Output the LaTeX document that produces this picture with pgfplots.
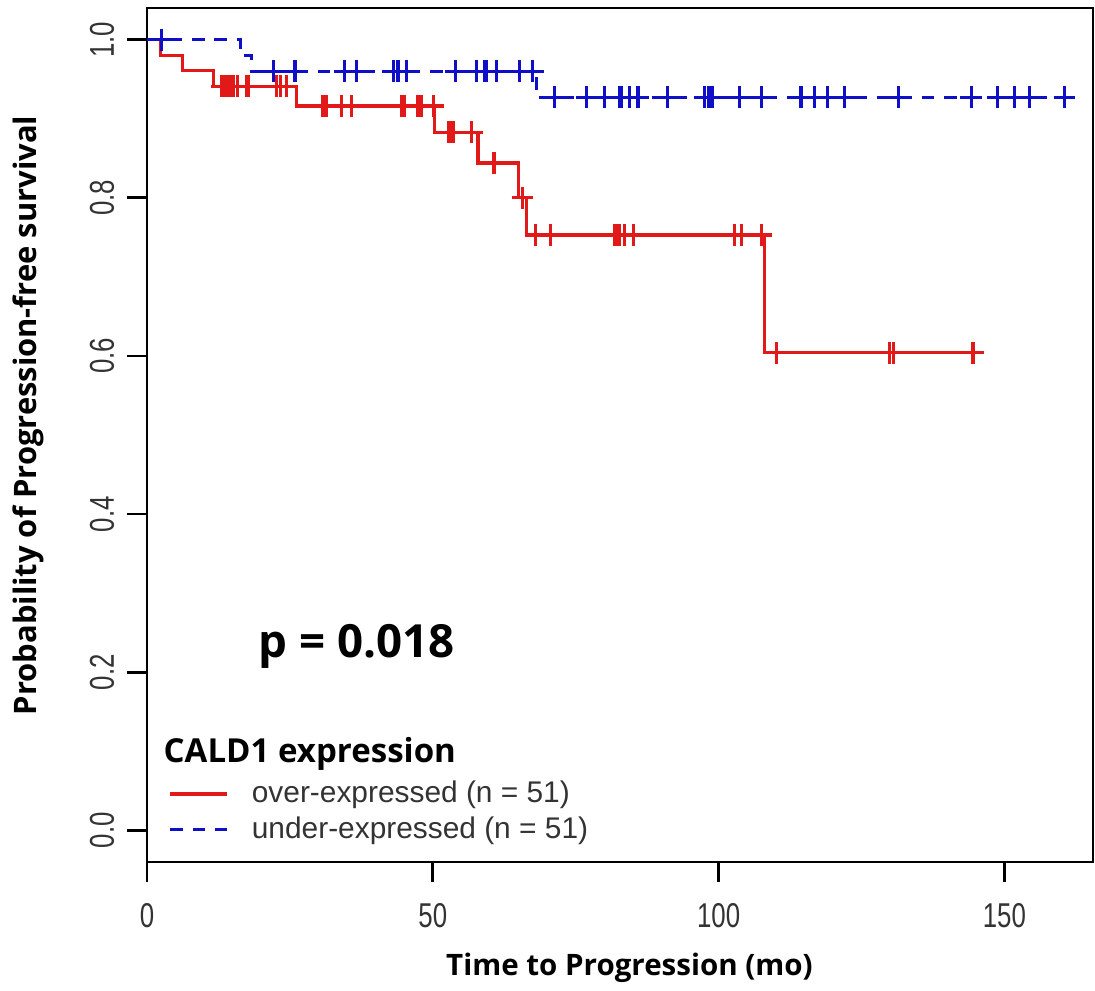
\documentclass[border=0pt]{standalone}
\usepackage{pgfplots}
\pgfplotsset{compat=1.18}
\usepackage{fontspec}
\setmainfont{Liberation Sans}
\newfontfamily\osfont{Open Sans}
\definecolor{kmred}{RGB}{225,25,25}
\definecolor{kmblue}{RGB}{15,15,200}

\begin{document}
\begin{tikzpicture}
\useasboundingbox (-14.7mm,-12.8mm) rectangle (94.8mm,86.2mm);
\begin{axis}[
  at={(0,0)}, anchor=south west,
  scale only axis, width=94.6mm, height=85.4mm,
  xmin=0, xmax=165.5, ymin=-0.04, ymax=1.04,
  axis line style={line width=0.8pt},
  xtick={0,50,100,150}, ytick={0,0.2,0.4,0.6,0.8,1.0},
  xtick pos=bottom, ytick pos=left,
  tick align=outside, major tick length=2mm,
  tick style={line width=0.8pt, black},
  /pgf/number format/assume math mode=true,
  xticklabel={\scalebox{0.75}[1]{\pgfmathprintnumber{\tick}}},
  yticklabel={\scalebox{0.75}[1]{\pgfmathprintnumber[fixed,precision=1,zerofill]{\tick}}},
  ticklabel style={font=\fontsize{9.8}{11}\selectfont, text=black!80},
  xticklabel style={anchor=center, yshift=-3.4mm},
  yticklabel style={anchor=center, xshift=-2.5mm, rotate=90},
  xlabel={\osfont\bfseries Time to Progression (mo)},
  every axis x label/.style={at={(axis description cs:0.51,0)}, anchor=center, yshift=-10.6mm, font=\fontsize{8.4}{9}\selectfont},
  ylabel={\osfont\bfseries Probability of Progression-free survival},
  every axis y label/.style={at={(axis description cs:0,0.523)}, xshift=-11.9mm, rotate=90, anchor=center, font=\fontsize{8.8}{9}\selectfont},
  legend cell align=left,
  legend image code/.code={\draw[#1] (0mm,0mm) -- (5.7mm,0mm);},
  legend style={at={(rel axis cs:0.0222,0.099)}, anchor=north west, draw=none, fill=none,
    inner sep=0pt, row sep=1.2pt, font=\fontsize{8.5}{9}\selectfont, text=black!80,
    nodes={inner sep=0pt, text height=7pt, text depth=2pt},
    /tikz/every odd column/.append style={column sep=2.3mm}},
]
% over-expressed: step curve
\addplot[kmred, line width=0.9pt, const plot] coordinates {
  (0,1) (2.4,0.980) (6.2,0.961) (11.6,0.941) (26.2,0.916) (50.3,0.883)
  (57.9,0.844) (65.0,0.800) (66.4,0.753) (108.0,0.604) (144.5,0.604)
};
\addlegendentry{over-expressed (n = 51)}
% under-expressed: step curve
\addplot[kmblue, line width=0.9pt, dash pattern=on 3.6pt off 2.8pt, const plot] coordinates {
  (0,1) (16.3,0.980) (18.3,0.960) (68.2,0.927) (160.5,0.927)
};
\addlegendentry{under-expressed (n = 51)}
% censored times
\addplot[kmred, only marks, mark=+, mark size=3.1pt, mark options={line width=0.9pt, solid}, forget plot] coordinates {
  (13.1,0.941) (13.6,0.941) (14.0,0.941) (14.6,0.941) (15.2,0.941) (15.8,0.941)
  (17.4,0.941) (17.7,0.941) (22.7,0.941) (23.3,0.941) (24.4,0.941)
  (30.8,0.916) (31.1,0.916) (31.4,0.916) (34.0,0.916) (35.8,0.916)
  (44.5,0.916) (45.1,0.916) (47.4,0.916) (48.0,0.916) (50.1,0.916)
  (52.7,0.883) (53.3,0.883) (53.6,0.883) (56.8,0.883)
  (60.7,0.844) (65.7,0.800)
  (68.0,0.753) (70.6,0.753) (81.8,0.753) (82.2,0.753) (82.7,0.753) (83.6,0.753)
  (85.1,0.753) (102.8,0.753) (104.0,0.753) (107.5,0.753)
  (110.1,0.604) (129.9,0.604) (130.6,0.604) (144.5,0.604)
};
\addplot[kmblue, only marks, mark=+, mark size=3.1pt, mark options={line width=0.9pt, solid}, forget plot] coordinates {
  (2.6,1)
  (22.1,0.960) (25.9,0.960) (34.6,0.960) (36.7,0.960) (43.1,0.960) (43.9,0.960)
  (45.4,0.960) (54.0,0.960) (57.6,0.960) (59.1,0.960) (59.4,0.960) (61.1,0.960)
  (65.2,0.960) (67.5,0.960)
  (71.3,0.927) (76.9,0.927) (80.1,0.927) (82.7,0.927) (83.0,0.927) (84.4,0.927)
  (85.9,0.927) (91.1,0.927) (97.6,0.927) (98.2,0.927) (98.7,0.927) (99.0,0.927)
  (103.7,0.927) (107.5,0.927) (114.4,0.927) (116.8,0.927) (119.1,0.927) (122.0,0.927)
  (131.5,0.927) (144.2,0.927) (148.8,0.927) (151.7,0.927) (154.4,0.927) (160.5,0.927)
};
\node[anchor=base west, inner sep=0pt, font=\osfont\bfseries\fontsize{13}{15}\selectfont]
  at (rel axis cs:0.117,0.239) {p = 0.018};
\node[anchor=base west, inner sep=0pt, font=\osfont\bfseries\fontsize{9.4}{10}\selectfont]
  at (rel axis cs:0.0169,0.117) {CALD1 expression};
\end{axis}
\end{tikzpicture}
\end{document}
